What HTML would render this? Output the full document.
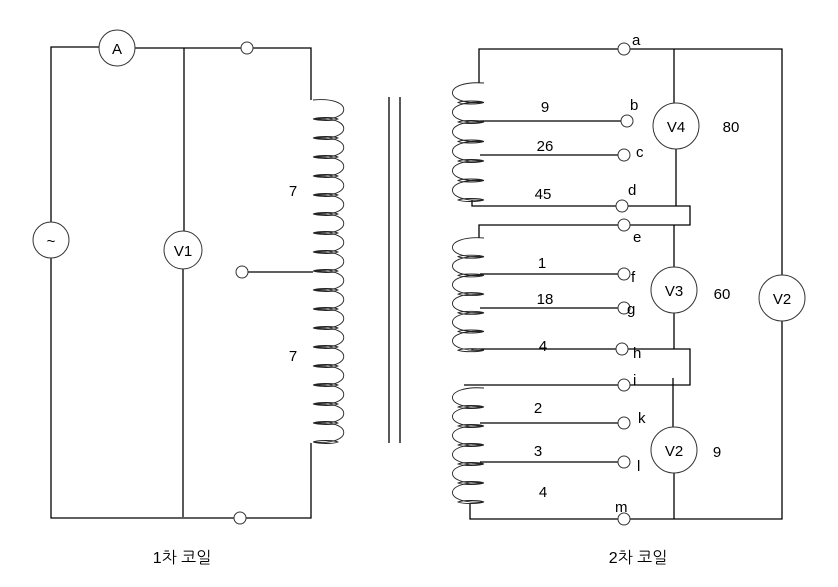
<!DOCTYPE html>
<html><head><meta charset="utf-8"><style>
body{margin:0;background:#fff;}
svg{display:block;}
text{font-family:"Liberation Sans","NanumGothic",sans-serif;fill:#000;}
</style></head><body>
<svg id="s" width="838" height="587" viewBox="0 0 838 587" xmlns="http://www.w3.org/2000/svg">
<g stroke="#000" stroke-width="1.3" fill="none">
<path d="M51 222 V47 H99 M135 48 H241 M253 48 H311 V100"/>
<path d="M184 48 V231 M183 269 V517"/>
<path d="M51 258 V518 H234 M246 518 H311 V443"/>
<path d="M248 272 H313"/>
<path d="M389 97 V443 M400 97 V443"/>
<path d="M479 83 V49 H618 M630 49 H782 V275 M782 321 V519 H630 M618 519 H470 V504"/>
<path d="M674 49 V103 M676 148 V206 M674 225 V267 M674 313 V349 M673 378 V427 M674 473 V519"/>
<path d="M472 200 V206 H616 M628 206 H690 V225 H630 M618 225 H479 V238"/>
<path d="M472 350 V349 H616 M628 349 H690 V385 H630 M618 385 H464"/>
<path d="M480 121 H621 M480 155 H618 M480 274 H618 M480 308 H618 M480 423 H618 M480 462 H618"/>
</g>
<g stroke="#333" stroke-width="1" fill="#fff">
<circle cx="117" cy="48" r="18"/><circle cx="51" cy="240" r="18"/><circle cx="183" cy="250" r="19"/>
<circle cx="247" cy="48" r="6"/><circle cx="242" cy="272" r="6"/><circle cx="240" cy="518" r="6"/>
<circle cx="676" cy="126" r="23"/><circle cx="674" cy="290" r="23"/><circle cx="674" cy="450" r="23"/><circle cx="782" cy="298" r="23"/>
<circle cx="624" cy="49" r="6"/><circle cx="627" cy="121" r="6"/><circle cx="624" cy="155" r="6"/><circle cx="622" cy="206" r="6"/><circle cx="624" cy="225" r="6"/><circle cx="624" cy="274" r="6"/><circle cx="624" cy="308" r="6"/><circle cx="622" cy="349" r="6"/><circle cx="624" cy="385" r="6"/><circle cx="624" cy="423" r="6"/><circle cx="624" cy="462" r="6"/><circle cx="624" cy="519" r="6"/>
</g>
<g id="coils" stroke="#222" stroke-width="0.9" fill="none"></g>
<g font-size="15" text-anchor="middle">
<text x="117" y="54">A</text><text x="51" y="246">~</text><text x="183" y="256">V1</text>
<text x="293" y="196">7</text><text x="293" y="361">7</text>
<text x="676" y="132">V4</text><text x="674" y="296">V3</text><text x="674" y="456">V2</text><text x="782" y="304">V2</text>
<text x="731" y="132">80</text><text x="722" y="299">60</text><text x="717" y="457">9</text>
<text x="545" y="112">9</text><text x="545" y="151">26</text><text x="543" y="199">45</text>
<text x="542" y="268">1</text><text x="545" y="304">18</text><text x="543" y="351">4</text>
<text x="538" y="413">2</text><text x="538" y="456">3</text><text x="543" y="497">4</text>
</g>
<g font-size="15">
<text x="632" y="45">a</text><text x="630" y="110">b</text><text x="636" y="157">c</text><text x="628" y="195">d</text><text x="633" y="242">e</text><text x="631" y="282">f</text><text x="627" y="314">g</text><text x="633" y="358">h</text><text x="633" y="385">i</text><text x="638" y="423">k</text><text x="637" y="471">l</text><text x="615" y="512">m</text>
</g>
<g font-size="16" text-anchor="middle">
<text x="182" y="563">1차 코일</text><text x="638" y="563">2차 코일</text>
</g>
</svg>
<script>
var g=document.getElementById('coils'),d='';
for(var i=0;i<18;i++){var y=100+i*19;d+='M313 '+y+' C354 '+(y-4)+' 354 '+(y+23)+' 313 '+(y+19)+' ';
 d+='M313 '+(y+19)+' C318 '+(y+17)+' 334 '+(y+17)+' 338 '+(y+19)+' C334 '+(y+21)+' 318 '+(y+21)+' 313 '+(y+19)+' ';}
function sec(y0,n,h){for(var i=0;i<n;i++){var y=y0+i*h;d+='M484 '+y+' C442 '+(y-3)+' 442 '+(y+h+3)+' 484 '+(y+h)+' ';
 var yy=y+h;d+='M484 '+yy+' C480 '+(yy-2)+' 462 '+(yy-2)+' 458 '+yy+' C462 '+(yy+2)+' 480 '+(yy+2)+' 484 '+yy+' ';}}
sec(83,6,19.5);sec(238,6,18.7);sec(388,6,19);
var p=document.createElementNS('http://www.w3.org/2000/svg','path');p.setAttribute('d',d);g.appendChild(p);
</script>
</body></html>
